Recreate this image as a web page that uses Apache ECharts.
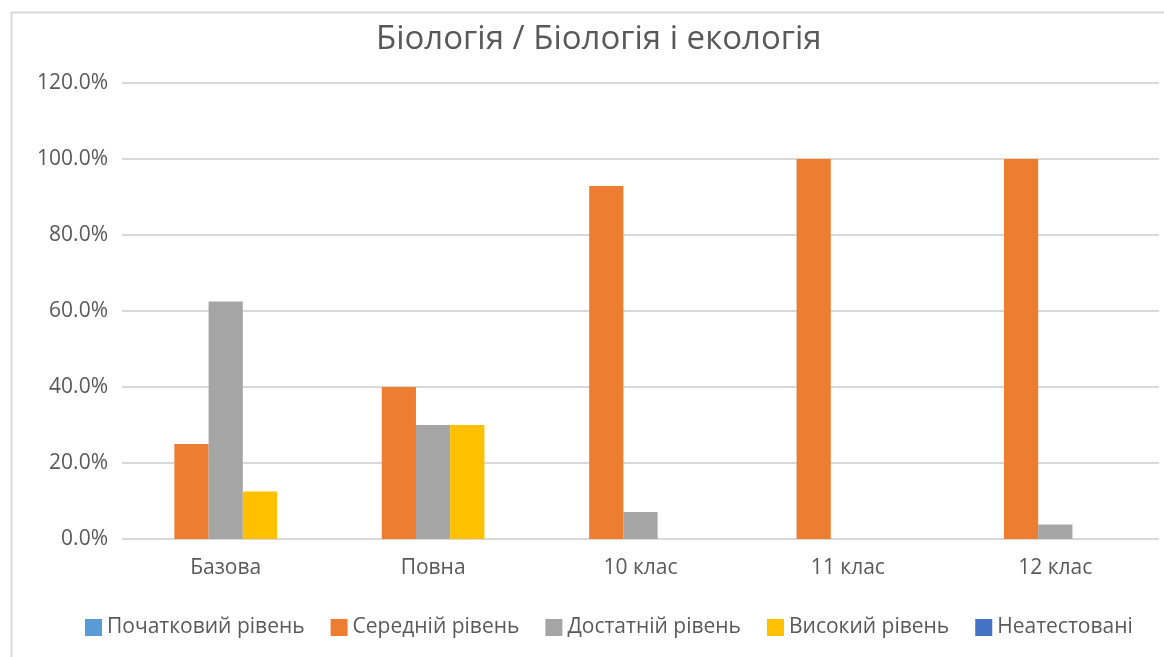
<!DOCTYPE html>
<html>
<head>
<meta charset="utf-8">
<script src="https://cdn.jsdelivr.net/npm/echarts@6/dist/echarts.min.js"></script>
<style>
  html, body { margin: 0; padding: 0; background: #fff; }
  #chart { width: 1164px; height: 657px; }
</style>
</head>
<body>
<div id="chart"></div>
<script>
const categories = ['Базова', 'Повна', '10 клас', '11 клас', '12 клас']
const seriesNames = ['Початковий рівень', 'Середній рівень', 'Достатній рівень', 'Високий рівень', 'Неатестовані']
const seriesColors = ['#5B9BD5', '#ED7D31', '#A5A5A5', '#FFC000', '#4472C4']

// percent values per level
const initialLevel = [0, 0, 0, 0, 0]
const mediumLevel = [25, 40, 92.9, 100, 100]
const sufficientLevel = [62.5, 30, 7.1, 0, 3.8]
const highLevel = [12.5, 30, 0, 0, 0]
const notCertified = [0, 0, 0, 0, 0]

const seriesValues = [initialLevel, mediumLevel, sufficientLevel, highLevel, notCertified]

const font = '"Open Sans", "Noto Sans", sans-serif'
const textColor = '#595959'

const chart = echarts.init(document.getElementById('chart'))

chart.setOption({
  animation: false,
  title: {
    text: 'Біологія / Біологія і екологія',
    left: 371,
    top: 18,
    textStyle: {
      color: textColor,
      fontSize: 33,
      fontWeight: 'normal',
      fontFamily: font,
    },
  },
  legend: {
    bottom: 14,
    left: 80,
    itemWidth: 17,
    itemHeight: 17,
    itemGap: 26,
    icon: 'rect',
    textStyle: { color: textColor, fontSize: 21, fontFamily: font },
    data: seriesNames,
  },
  grid: {
    left: 122,
    right: 5,
    top: 83,
    bottom: 118,
    containLabel: false,
  },
  xAxis: {
    type: 'category',
    data: categories,
    axisLine: { show: false },
    axisTick: { show: false },
    axisLabel: {
      color: textColor,
      fontSize: 21,
      fontFamily: font,
      margin: 19,
    },
  },
  yAxis: {
    type: 'value',
    min: 0,
    max: 120,
    interval: 20,
    axisLine: { show: false },
    axisTick: { show: false },
    axisLabel: {
      color: textColor,
      fontSize: 21,
      fontFamily: font,
      margin: 14,
      formatter: (v) => v.toFixed(1) + '%',
    },
    splitLine: { lineStyle: { color: '#D9D9D9', width: 2 } },
  },
  graphic: [
    {
      type: 'rect',
      silent: true,
      shape: { x: 11.5, y: 12.5, width: 1170, height: 670 },
      style: { fill: 'none', stroke: '#D9D9D9', lineWidth: 2 },
    },
  ],
  series: seriesNames.map((name, i) => ({
    name,
    type: 'bar',
    barGap: '0%',
    barCategoryGap: '17.5%',
    itemStyle: { color: seriesColors[i] },
    data: seriesValues[i],
  })),
})
</script>
</body>
</html>
